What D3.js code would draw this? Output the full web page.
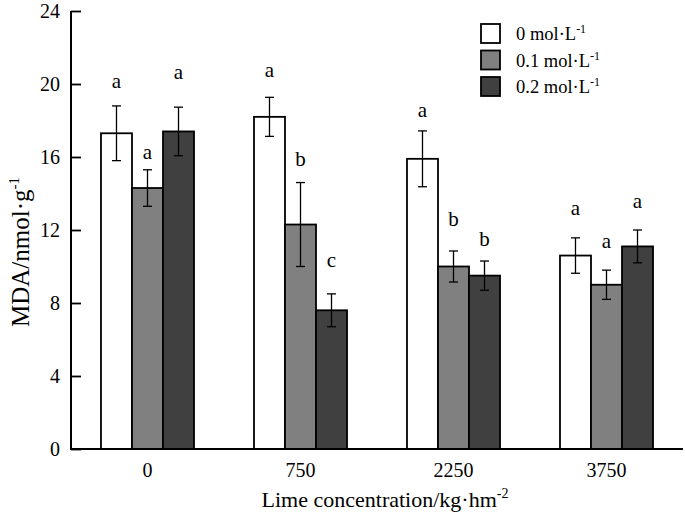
<!DOCTYPE html>
<html><head><meta charset="utf-8">
<script src="https://cdn.jsdelivr.net/npm/d3@7"></script>
<style>body{margin:0;background:#fff}svg{display:block}text{font-family:"Liberation Serif","Times New Roman",serif;fill:#000}</style>
</head><body>
<script>
const categories = ["0", "750", "2250", "3750"];
const seriesNames = ["0 mol·L", "0.1 mol·L", "0.2 mol·L"];
const values0 = [17.3, 18.2, 15.9, 10.6];
const values1 = [14.3, 12.3, 10.0, 9.0];
const values2 = [17.4, 7.6, 9.5, 11.1];
const errors0 = [1.5, 1.07, 1.53, 0.97];
const errors1 = [1.0, 2.3, 0.85, 0.8];
const errors2 = [1.33, 0.9, 0.8, 0.9];
const letters0 = ["a", "a", "a", "a"];
const letters1 = ["a", "b", "b", "a"];
const letters2 = ["a", "c", "b", "a"];
const letterLevel0 = [19.8, 20.4, 18.2, 12.8];
const letterLevel1 = [15.9, 15.5, 12.2, 11.0];
const letterLevel2 = [20.25, 9.95, 11.1, 13.2];
const yTicks = [0, 4, 8, 12, 16, 20, 24];

const colors = ["#ffffff", "#808080", "#404040"];
const W = 685, H = 526;
const svg = d3.select("body").append("svg").attr("width", W).attr("height", H);

const x0 = d3.scaleBand().domain(categories).range([71, 683]).paddingInner(0.392).paddingOuter(0.196);
const x1 = d3.scaleBand().domain([0, 1, 2]).range([0, x0.bandwidth()]);
const y = d3.scaleLinear().domain([0, 24]).range([449, 11]);

const series = [values0, values1, values2];
const errs = [errors0, errors1, errors2];
const lets = [letters0, letters1, letters2];
const levels = [letterLevel0, letterLevel1, letterLevel2];

const data = [];
categories.forEach((c, i) => {
  for (let s = 0; s < 3; s++) data.push({c, s, v: series[s][i], e: errs[s][i], l: lets[s][i], ly: levels[s][i]});
});

const g = svg.append("g");
g.selectAll("rect.bar").data(data).join("rect").attr("class", "bar")
  .attr("x", d => x0(d.c) + x1(d.s))
  .attr("y", d => y(d.v))
  .attr("width", x1.bandwidth())
  .attr("height", d => y(0) - y(d.v))
  .attr("fill", d => colors[d.s])
  .attr("stroke", "#000").attr("stroke-width", 1.8);

const eb = g.selectAll("g.err").data(data).join("g").attr("class", "err")
  .attr("stroke", "#000").attr("stroke-width", 1.3);
const cx = d => x0(d.c) + x1(d.s) + x1.bandwidth() / 2;
eb.append("line").attr("x1", cx).attr("x2", cx).attr("y1", d => y(d.v + d.e)).attr("y2", d => y(d.v - d.e));
eb.append("line").attr("x1", d => cx(d) - 4.5).attr("x2", d => cx(d) + 4.5).attr("y1", d => y(d.v + d.e)).attr("y2", d => y(d.v + d.e));
eb.append("line").attr("x1", d => cx(d) - 4.5).attr("x2", d => cx(d) + 4.5).attr("y1", d => y(d.v - d.e)).attr("y2", d => y(d.v - d.e));

g.selectAll("text.sig").data(data).join("text").attr("class", "sig")
  .attr("x", cx).attr("y", d => y(d.ly))
  .attr("text-anchor", "middle").attr("font-size", 21).text(d => d.l);

// axes
const yAxis = svg.append("g").attr("transform", "translate(71,0)")
  .call(d3.axisLeft(y).tickValues(yTicks).tickSize(-10).tickPadding(11).tickFormat(d3.format("d")));
yAxis.select(".domain").attr("stroke-width", 2).attr("d", "M0,11V449");
yAxis.selectAll(".tick line").attr("stroke-width", 1.8);
yAxis.selectAll(".tick text").attr("font-size", 20).attr("font-family", "Liberation Serif").attr("dy", "0.33em");

const xAxis = svg.append("g").attr("transform", "translate(0,449)")
  .call(d3.axisBottom(x0).tickSize(0).tickPadding(14));
xAxis.select(".domain").attr("stroke-width", 2.2).attr("d", "M70,0H683");
xAxis.selectAll(".tick text").attr("font-size", 20).attr("font-family", "Liberation Serif");

// axis titles
const xt = svg.append("text").attr("x", 385).attr("y", 507).attr("text-anchor", "middle").attr("font-size", 22);
xt.append("tspan").text("Lime concentration/kg·hm");
xt.append("tspan").attr("font-size", 14).attr("dy", -9).text("-2");

const yt = svg.append("text").attr("transform", "translate(29,252) rotate(-90)").attr("text-anchor", "middle").attr("font-size", 25);
yt.append("tspan").text("MDA/nmol·g");
yt.append("tspan").attr("font-size", 15).attr("dy", -10).text("-1");

// legend
const leg = svg.append("g").attr("transform", "translate(481,24)");
seriesNames.forEach((n, i) => {
  const r = leg.append("g").attr("transform", `translate(0,${i * 26.5})`);
  r.append("rect").attr("x", 0).attr("y", 0).attr("width", 19).attr("height", 19)
    .attr("fill", colors[i]).attr("stroke", "#000").attr("stroke-width", 1.8);
  const t = r.append("text").attr("x", 35).attr("y", 16).attr("font-size", 18.5);
  t.append("tspan").text(n);
  t.append("tspan").attr("font-size", 12).attr("dy", -7).text("-1");
});
</script>
</body></html>
